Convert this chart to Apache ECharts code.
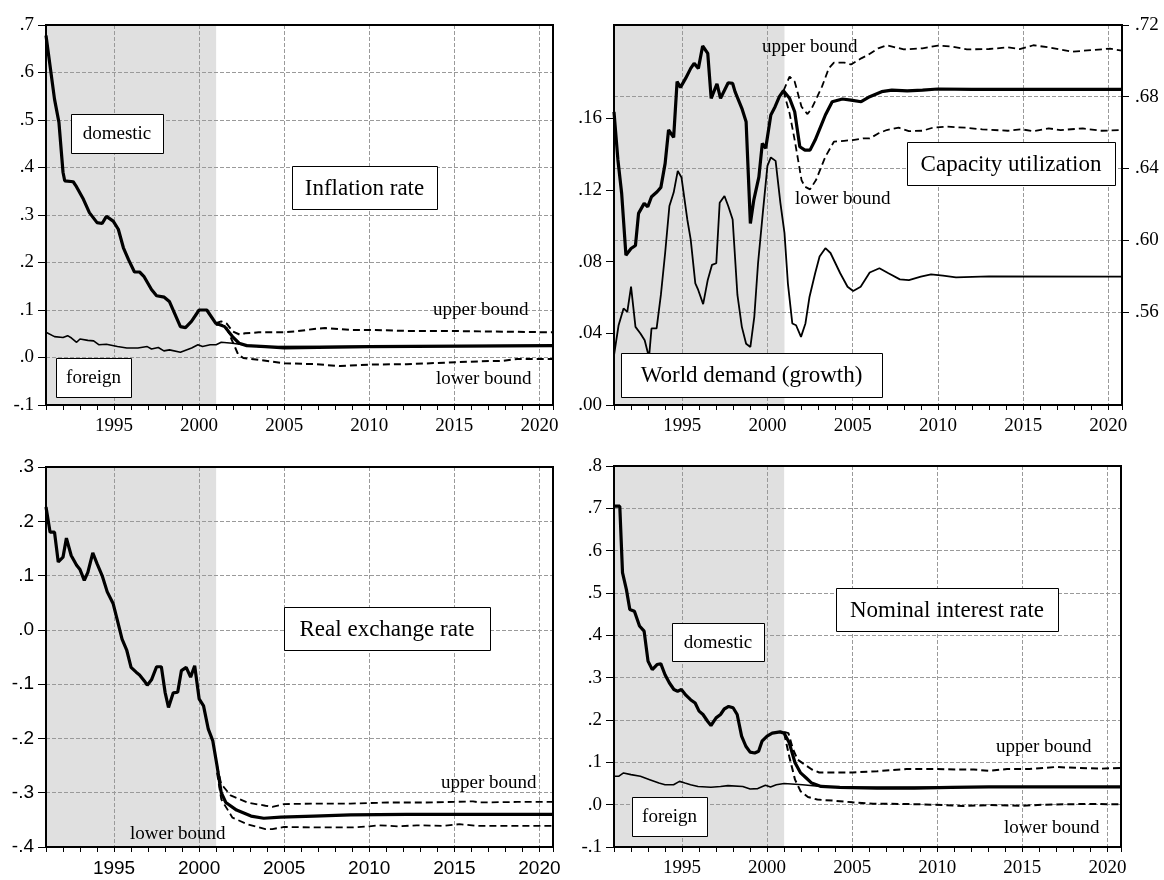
<!DOCTYPE html>
<html><head><meta charset="utf-8">
<script src="https://cdn.jsdelivr.net/npm/echarts@6/dist/echarts.min.js"></script>
<style>html,body{margin:0;padding:0;background:#fff}#c{width:1164px;height:880px}</style>
</head><body><div id="c"></div>
<script>
// ---------------- DATA ----------------
const SHADE = [1991, 2001];
const X_MIN = 1991, X_MAX = 2020.8;

// Inflation rate
const inflDomestic = [[1991.0,.678],[1991.5,.544],[1991.76,.495],[1992.0,.39],[1992.1,.372],[1992.6,.37],[1992.75,.362],[1993.2,.333],[1993.55,.305],[1994.0,.284],[1994.3,.282],[1994.55,.297],[1994.95,.287],[1995.25,.27],[1995.55,.231],[1995.85,.206],[1996.2,.18],[1996.5,.18],[1996.75,.171],[1997.2,.143],[1997.5,.13],[1997.95,.127],[1998.25,.118],[1998.9,.065],[1999.2,.063],[1999.55,.076],[2000.0,.1],[2000.45,.1],[2000.98,.072],[2001.5,.065],[2001.96,.044],[2002.35,.03],[2002.8,.025],[2003.9,.023],[2005.0,.02],[2007.0,.021],[2010.0,.023],[2020.8,.025]];
const inflForeign = [[1991.0,.053],[1991.5,.044],[1992.0,.042],[1992.27,.046],[1992.5,.041],[1992.8,.032],[1993.0,.039],[1993.46,.036],[1993.8,.035],[1994.1,.027],[1994.55,.028],[1995.2,.023],[1995.75,.02],[1996.4,.02],[1996.95,.023],[1997.2,.018],[1997.6,.021],[1997.93,.014],[1998.26,.016],[1998.9,.011],[1999.56,.02],[1999.93,.027],[2000.2,.023],[2000.65,.027],[2001.0,.027],[2001.3,.032],[2001.96,.03],[2002.6,.027],[2003.5,.023],[2020.8,.025]];
const inflUpper = [[2000.98,.072],[2001.3,.076],[2001.63,.071],[2001.96,.055],[2002.4,.048],[2002.7,.051],[2003.5,.053],[2005.0,.053],[2005.66,.055],[2006.75,.06],[2007.4,.062],[2008.9,.058],[2010.0,.058],[2012.2,.056],[2014.4,.056],[2016.5,.055],[2020.8,.053]];
const inflLower = [[2000.98,.069],[2001.3,.069],[2001.63,.062],[2001.96,.034],[2002.3,.006],[2002.6,-.001],[2003.5,-.005],[2005.0,-.012],[2006.75,-.014],[2008.3,-.018],[2010.0,-.015],[2012.2,-.014],[2014.4,-.011],[2016.5,-.008],[2017.9,-.007],[2018.7,-.003],[2020.8,-.003]];

// World demand (growth) - left axis ; Capacity utilization - right axis
const worldDemand = [[1991.0,.0277],[1991.27,.0445],[1991.56,.0539],[1991.78,.052],[1992.0,.066],[1992.26,.0436],[1992.55,.0399],[1992.8,.0361],[1993.0,.0286],[1993.05,.026],[1993.2,.0427],[1993.5,.0427],[1993.75,.0614],[1994.0,.0848],[1994.25,.111],[1994.5,.1185],[1994.74,.1306],[1994.96,.1269],[1995.3,.1035],[1995.5,.0923],[1995.77,.0679],[1995.94,.0642],[1996.23,.0563],[1996.5,.0698],[1996.75,.0782],[1997.0,.0791],[1997.2,.1128],[1997.48,.1166],[1997.7,.111],[1997.96,.1035],[1998.24,.0614],[1998.5,.0436],[1998.75,.0342],[1999.0,.0324],[1999.23,.0492],[1999.45,.0791],[1999.73,.1072],[2000.0,.1334],[2000.2,.1381],[2000.48,.1362],[2000.76,.1128],[2001.0,.096],[2001.2,.0679],[2001.46,.0455],[2001.68,.0445],[2001.97,.038],[2002.23,.0455],[2002.47,.0604],[2002.8,.0735],[2003.06,.0829],[2003.4,.0875],[2003.7,.0848],[2004.27,.0735],[2004.7,.066],[2005.03,.0636],[2005.47,.066],[2006.0,.0739],[2006.57,.0763],[2007.1,.0735],[2007.77,.0701],[2008.3,.0697],[2009.0,.0716],[2009.6,.0729],[2010.3,.0722],[2011.06,.0712],[2013.0,.0718],[2020.8,.0716]];
const capUtil = [[1991.0,.6716],[1991.23,.6447],[1991.45,.626],[1991.7,.5916],[1992.0,.5953],[1992.26,.597],[1992.44,.6149],[1992.77,.6205],[1992.98,.6186],[1993.2,.6242],[1993.53,.627],[1993.75,.6294],[1994.0,.6428],[1994.2,.6614],[1994.5,.6573],[1994.7,.6884],[1994.9,.6852],[1995.2,.6902],[1995.5,.6958],[1995.7,.6986],[1995.95,.6958],[1996.2,.7083],[1996.5,.7042],[1996.7,.6791],[1997.04,.6871],[1997.25,.6791],[1997.7,.6878],[1997.96,.6874],[1998.1,.6828],[1998.5,.6735],[1998.75,.666],[1999.0,.6093],[1999.2,.6223],[1999.5,.6353],[1999.7,.654],[1999.9,.6512],[2000.2,.6698],[2000.45,.6744],[2000.7,.68],[2000.94,.6833],[2001.3,.6791],[2001.6,.6716],[2001.9,.6521],[2002.2,.6502],[2002.5,.6502],[2002.8,.6558],[2003.4,.6698],[2003.8,.6772],[2004.4,.6787],[2004.9,.6781],[2005.5,.6772],[2006.0,.68],[2006.7,.6828],[2007.3,.6837],[2008.2,.6833],[2009.1,.6837],[2010.0,.6843],[2012.0,.6841],[2020.8,.6841]];
const capUpper = [[2000.94,.6833],[2001.3,.6912],[2001.6,.6884],[2002.0,.6744],[2002.35,.6703],[2002.6,.6735],[2003.2,.6856],[2003.6,.6958],[2003.9,.699],[2004.5,.699],[2004.9,.698],[2005.5,.7014],[2005.9,.7033],[2006.5,.707],[2007.0,.7087],[2008.0,.7064],[2009.1,.707],[2010.0,.7085],[2010.8,.708],[2011.7,.7064],[2013.0,.7066],[2014.1,.7075],[2014.8,.7066],[2015.6,.7087],[2016.5,.7075],[2017.9,.7051],[2019.0,.706],[2020.1,.7068],[2020.8,.7057]];
const capLower = [[2000.94,.6833],[2001.3,.6707],[2001.6,.6558],[2002.0,.6335],[2002.2,.6298],[2002.5,.6283],[2002.85,.6335],[2003.4,.6465],[2003.9,.6549],[2004.5,.6554],[2005.0,.6558],[2005.6,.6567],[2006.0,.6567],[2006.5,.6595],[2007.0,.6614],[2007.7,.6627],[2008.3,.6608],[2009.1,.661],[2009.7,.6627],[2010.5,.6633],[2011.6,.6627],[2012.6,.6618],[2014.1,.661],[2014.9,.6618],[2015.6,.6608],[2016.5,.6623],[2017.2,.6614],[2018.5,.6623],[2019.6,.661],[2020.8,.6614]];

// Real exchange rate
const rer = [[1991.0,.2265],[1991.24,.18],[1991.5,.18],[1991.72,.125],[1992.0,.134],[1992.2,.169],[1992.48,.137],[1992.8,.119],[1993.0,.111],[1993.25,.091],[1993.46,.106],[1993.75,.142],[1994.0,.122],[1994.3,.1],[1994.6,.07],[1994.95,.048],[1995.2,.017],[1995.47,-.017],[1995.75,-.038],[1996.0,-.069],[1996.3,-.078],[1996.5,-.083],[1996.78,-.094],[1996.95,-.102],[1997.2,-.092],[1997.5,-.068],[1997.78,-.068],[1998.0,-.115],[1998.2,-.143],[1998.48,-.116],[1998.74,-.115],[1998.96,-.075],[1999.24,-.069],[1999.5,-.087],[1999.74,-.066],[2000.0,-.127],[2000.26,-.14],[2000.54,-.183],[2000.8,-.204],[2001.05,-.25],[2001.3,-.30],[2001.57,-.318],[2002.2,-.332],[2003.05,-.343],[2003.8,-.347],[2004.8,-.345],[2006.75,-.343],[2008.9,-.341],[2012.2,-.340],[2020.8,-.340]];
const rerUpper = [[2001.05,-.25],[2001.3,-.284],[2001.85,-.305],[2002.83,-.318],[2003.9,-.324],[2004.3,-.326],[2005.0,-.321],[2006.75,-.32],[2008.9,-.32],[2011.1,-.318],[2013.3,-.318],[2016.1,-.316],[2016.5,-.318],[2018.7,-.317],[2020.8,-.317]];
const rerLower = [[2001.05,-.263],[2001.3,-.312],[2001.96,-.346],[2002.83,-.358],[2003.9,-.367],[2004.3,-.367],[2005.0,-.363],[2006.75,-.364],[2008.9,-.364],[2010.0,-.362],[2010.6,-.36],[2011.7,-.362],[2012.8,-.36],[2014.4,-.361],[2015.3,-.358],[2016.3,-.361],[2018.7,-.361],[2020.8,-.361]];

// Nominal interest rate
const nirDomestic = [[1991.0,.705],[1991.34,.705],[1991.5,.548],[1991.73,.508],[1991.93,.461],[1992.2,.457],[1992.5,.422],[1992.77,.41],[1993.0,.339],[1993.25,.319],[1993.53,.331],[1993.75,.333],[1994.0,.307],[1994.25,.288],[1994.52,.272],[1994.74,.268],[1994.96,.272],[1995.24,.258],[1995.5,.248],[1995.77,.24],[1996.0,.221],[1996.23,.213],[1996.5,.197],[1996.7,.187],[1997.0,.205],[1997.26,.213],[1997.48,.226],[1997.74,.232],[1998.0,.229],[1998.24,.213],[1998.5,.162],[1998.75,.138],[1999.0,.124],[1999.27,.122],[1999.5,.126],[1999.7,.15],[2000.0,.162],[2000.3,.169],[2000.76,.172],[2001.0,.169],[2001.3,.146],[2001.64,.099],[2001.97,.075],[2002.3,.063],[2002.62,.051],[2003.17,.043],[2004.27,.041],[2006.46,.039],[2008.65,.039],[2010.84,.041],[2013.03,.042],[2020.8,.042]];
const nirForeign = [[1991.0,.067],[1991.27,.067],[1991.56,.075],[1992.0,.071],[1992.55,.067],[1993.1,.059],[1993.64,.051],[1994.0,.047],[1994.5,.047],[1994.85,.055],[1995.17,.051],[1995.5,.047],[1995.94,.043],[1996.7,.041],[1997.26,.043],[1997.7,.045],[1998.57,.043],[1999.0,.037],[1999.45,.038],[1999.9,.046],[2000.2,.042],[2000.54,.047],[2001.0,.05],[2002.08,.047],[2003.17,.043],[2004.27,.041],[2020.8,.042]];
const nirUpper = [[2001.0,.172],[2001.25,.169],[2001.53,.13],[2001.8,.106],[2002.2,.095],[2002.63,.083],[2003.06,.076],[2003.83,.076],[2005.03,.076],[2006.46,.079],[2008.2,.084],[2009.97,.084],[2011.06,.083],[2012.15,.083],[2013.03,.08],[2014.1,.084],[2015.4,.084],[2016.3,.087],[2016.97,.089],[2018.1,.087],[2019.6,.085],[2020.8,.087]];
const nirLower = [[2001.0,.169],[2001.3,.114],[2001.64,.059],[2001.97,.0315],[2002.4,.018],[2002.95,.012],[2004.05,.009],[2005.03,.0055],[2006.24,.0024],[2008.2,.0016],[2009.75,0],[2011.5,-.003],[2013.03,-.001],[2015.0,-.0024],[2016.3,0],[2018.5,.0016],[2020.8,.001]];

// Tick values
const yTicksTRLeft = [0, .04, .08, .12, .16];
const yTicksTRRight = [.56, .60, .64, .68, .72];

// ---------------- LAYOUT ----------------
const GRIDS = [
  {left:46, top:25, width:507, height:380},
  {left:614, top:25, width:508, height:380},
  {left:46, top:467, width:507, height:380},
  {left:614, top:466, width:507, height:381}
];
const SERIF = "'Liberation Serif','Times New Roman',serif";
const SANS = "'Liberation Sans',Arial,sans-serif";
const GRIDLINE = {color:'#9a9a9a', width:1, type:[4,2]};

function fmt(d){ return v => { if (Math.abs(v) < 1e-9) v = 0; const s = Math.abs(v).toFixed(d).replace(/^0/, ''); return (v < 0 ? '-' : '') + s; }; }

function xAx(i, font){
  return {type:'value', gridIndex:i, min:X_MIN, max:X_MAX, splitNumber:6, z:1.5,
    axisLine:{show:false, onZero:false},
    axisTick:{show:true, length:5, lineStyle:{color:'#000', width:1}},
    minorTick:{show:true, splitNumber:5, length:5, lineStyle:{color:'#000', width:1}},
    axisLabel:{margin:12, fontSize:19, fontFamily:font, color:'#000', showMinLabel:false, showMaxLabel:false,
      formatter: v => (Math.abs(v % 5) < 1e-6 ? String(Math.round(v)) : '')},
    splitLine:{show:true, lineStyle:GRIDLINE}};
}
function yAx(i, min, max, interval, d, font, extra){
  return Object.assign({type:'value', gridIndex:i, min:min, max:max, interval:interval, z:1.5,
    axisLine:{show:false, onZero:false},
    axisTick:{show:true, length:8, lineStyle:{color:'#000', width:1}},
    axisLabel:{margin:12, fontSize:19, fontFamily:font, color:'#000', formatter:fmt(d)},
    splitLine:{show:true, lineStyle:GRIDLINE}}, extra || {});
}

const xAxes = [xAx(0, SERIF), xAx(1, SERIF), xAx(2, SANS), xAx(3, SERIF)];
const yAxes = [
  yAx(0, -0.1, 0.7, 0.1, 1, SERIF),
  yAx(1, 0, 0.212, 0.04, 2, SERIF, {position:'left', splitLine:{show:false},
    axisTick:{show:true, length:8, lineStyle:{color:'#000', width:1}, customValues:yTicksTRLeft},
    axisLabel:{margin:12, fontSize:19, fontFamily:SERIF, color:'#000', formatter:fmt(2), customValues:yTicksTRLeft}}),
  {type:'value', gridIndex:1, min:0.508, max:0.72, position:'right', z:1.5,
    axisLine:{show:false, onZero:false},
    axisTick:{show:true, length:7, lineStyle:{color:'#000', width:1}, customValues:yTicksTRRight},
    axisLabel:{margin:13, fontSize:19, fontFamily:SERIF, color:'#000', formatter:fmt(2), customValues:yTicksTRRight},
    splitLine:{show:true, lineStyle:GRIDLINE}},
  yAx(2, -0.4, 0.3, 0.1, 1, SANS),
  yAx(3, -0.1, 0.8, 0.1, 1, SERIF)
];

function line(data, xi, yi, width, dashed, extra){
  return Object.assign({type:'line', data:data, xAxisIndex:xi, yAxisIndex:yi, symbol:'none', silent:true,
    animation:false, z:2,
    lineStyle:{color:'#000', width:width, type: dashed ? [7,4] : 'solid'}}, extra || {});
}
function shade(){
  return {markArea:{silent:true, itemStyle:{color:'#e0e0e0'}, data:[[{xAxis:SHADE[0]},{xAxis:SHADE[1]}]]}};
}

const series = [
  line(inflForeign, 0, 0, 1.6, false, shade()),
  line(inflUpper, 0, 0, 2, true),
  line(inflLower, 0, 0, 2, true),
  line(inflDomestic, 0, 0, 3.2),

  line(worldDemand, 1, 1, 1.8, false, shade()),
  line(capUpper, 1, 2, 1.8, true),
  line(capLower, 1, 2, 1.8, true),
  line(capUtil, 1, 2, 3.2),

  line(rerUpper, 2, 3, 1.8, true, shade()),
  line(rerLower, 2, 3, 1.8, true),
  line(rer, 2, 3, 3.2),

  line(nirForeign, 3, 4, 1.6, false, shade()),
  line(nirUpper, 3, 4, 2, true),
  line(nirLower, 3, 4, 2, true),
  line(nirDomestic, 3, 4, 3.2)
];

// ---------------- ANNOTATIONS (boxes and free text) ----------------
const boxes = [
  {t:'domestic', x:71, y:114, w:92, h:39, fs:19},
  {t:'foreign', x:56, y:358, w:75, h:39, fs:19},
  {t:'Inflation rate', x:292, y:166, w:145, h:43, fs:23},
  {t:'Capacity utilization', x:907, y:142, w:208, h:43, fs:23},
  {t:'World demand (growth)', x:621, y:353, w:261, h:44, fs:23},
  {t:'Real exchange rate', x:284, y:607, w:206, h:43, fs:23},
  {t:'Nominal interest rate', x:836, y:588, w:222, h:43, fs:23},
  {t:'domestic', x:672, y:623, w:92, h:38, fs:19},
  {t:'foreign', x:632, y:797, w:75, h:39, fs:19}
];
const freeTexts = [
  {t:'upper bound', x:433, y:310}, {t:'lower bound', x:436, y:379},
  {t:'upper bound', x:762, y:47}, {t:'lower bound', x:795, y:199},
  {t:'upper bound', x:441, y:783}, {t:'lower bound', x:130, y:834},
  {t:'upper bound', x:996, y:747}, {t:'lower bound', x:1004, y:828}
];

const graphic = [];
GRIDS.forEach(g => graphic.push({type:'rect', z:100, silent:true,
  shape:{x:g.left, y:g.top, width:g.width, height:g.height},
  style:{fill:null, stroke:'#000', lineWidth:2}}));
boxes.forEach(b => {
  graphic.push({type:'rect', z:110, silent:true, shape:{x:b.x+0.5, y:b.y+0.5, width:b.w, height:b.h},
    style:{fill:'#fff', stroke:'#000', lineWidth:1}});
  graphic.push({type:'text', z:111, silent:true, x:b.x + b.w/2, y:b.y + b.h/2 + 1,
    style:{text:b.t, fill:'#000', font:b.fs + 'px ' + SERIF, textAlign:'center', textVerticalAlign:'middle'}});
});
freeTexts.forEach(f => graphic.push({type:'text', z:111, silent:true, x:f.x, y:f.y,
  style:{text:f.t, fill:'#000', font:'19px ' + SERIF, textAlign:'left', textVerticalAlign:'middle'}}));

const chart = echarts.init(document.getElementById('c'), null, {renderer:'canvas'});
chart.setOption({
  animation:false,
  backgroundColor:'#fff',
  grid: GRIDS.map(g => Object.assign({show:false, containLabel:false}, g)),
  xAxis: xAxes,
  yAxis: yAxes,
  series: series,
  graphic: graphic
});
</script>
</body></html>
